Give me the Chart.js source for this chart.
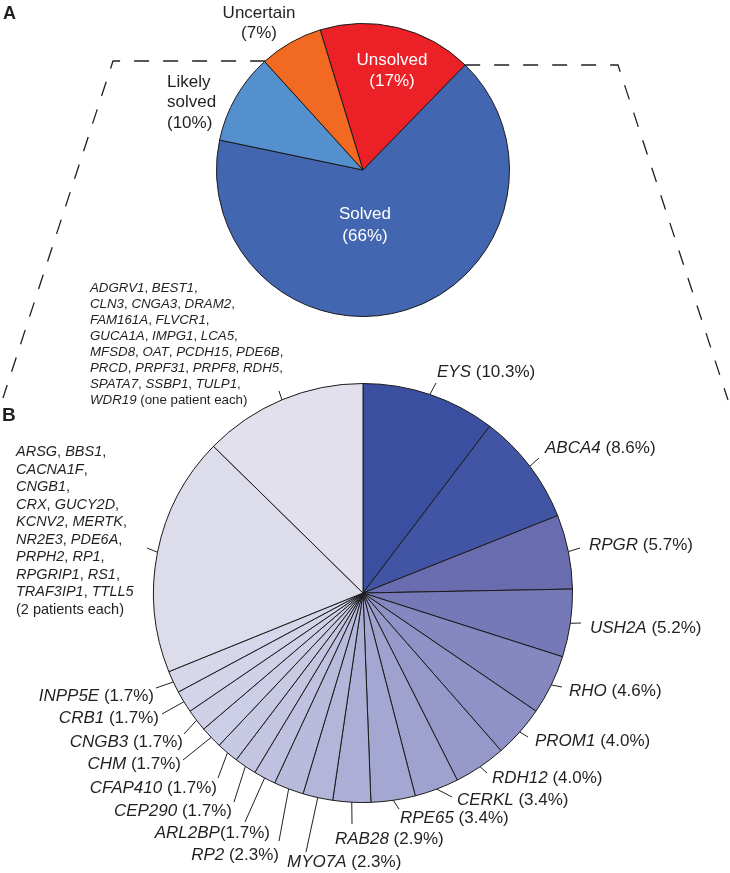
<!DOCTYPE html>
<html>
<head>
<meta charset="utf-8">
<script src="https://cdn.jsdelivr.net/npm/chart.js@4.4.0/dist/chart.umd.min.js"></script>
<style>
  body { margin: 0; background: #fff; }
  #wrap { position: relative; width: 730px; height: 873px; }
  canvas { position: absolute; left: 0; top: 0; }
</style>
</head>
<body>
<div id="wrap">
  <canvas id="chartB" width="730" height="873"></canvas>
  <canvas id="chartA" width="730" height="873"></canvas>
</div>
<script>
'use strict';

//panel A data
let statusNames = ['Unsolved', 'Solved', 'Likely solved', 'Uncertain'];
let statusPct = [17, 66, 10, 7];
let statusColors = ['#ec2027', '#4266b0', '#5590ce', '#f26a22'];

//panel B data
let geneNames = ['EYS', 'ABCA4', 'RPGR', 'USH2A', 'RHO', 'PROM1', 'RDH12', 'CERKL', 'RPE65', 'RAB28',
  'MYO7A', 'RP2', 'ARL2BP', 'CEP290', 'CFAP410', 'CHM', 'CNGB3', 'CRB1', 'INPP5E',
  '2 patients each', 'one patient each'];
let genePct = [10.3, 8.6, 5.7, 5.2, 4.6, 4.0, 4.0, 3.4, 3.4, 2.9,
  2.3, 2.3, 1.7, 1.7, 1.7, 1.7, 1.7, 1.7, 1.7,
  18.4, 12.6];
let twoPatientGenes = ['ARSG', 'BBS1', 'CACNA1F', 'CNGB1', 'CRX', 'GUCY2D', 'KCNV2', 'MERTK',
  'NR2E3', 'PDE6A', 'PRPH2', 'RP1', 'RPGRIP1', 'RS1', 'TRAF3IP1', 'TTLL5'];
let onePatientGenes = ['ADGRV1', 'BEST1', 'CLN3', 'CNGA3', 'DRAM2', 'FAM161A', 'FLVCR1', 'GUCA1A',
  'IMPG1', 'LCA5', 'MFSD8', 'OAT', 'PCDH15', 'PDE6B', 'PRCD', 'PRPF31', 'PRPF8', 'RDH5',
  'SPATA7', 'SSBP1', 'TULP1', 'WDR19'];
let geneColors = ['#3a4f9f', '#4255a4', '#696daf', '#7579b8', '#8487c0', '#8f92c6', '#9598c9',
  '#9fa1ce', '#a4a7d1', '#acaed5', '#b3b5d9', '#b9bbdc', '#c0c1e0', '#c4c5e1', '#c8c9e3',
  '#cccde6', '#d0d1e8', '#d3d4e9', '#d6d7ea', '#dcdcea', '#e1e0ec'];

//label placement for panel B (leader end, text anchor)
let labelSpots = [
  {lx: 436, ly: 383, tx: 437, ty: 372, align: 'left'},
  {lx: 539, ly: 458, tx: 545, ty: 448, align: 'left'},
  {lx: 580, ly: 548, tx: 589, ty: 545, align: 'left'},
  {lx: 581, ly: 623, tx: 590, ty: 628, align: 'left'},
  {lx: 562, ly: 687, tx: 569, ty: 691, align: 'left'},
  {lx: 528, ly: 737, tx: 535, ty: 741, align: 'left'},
  {lx: 487, ly: 773, tx: 492, ty: 778, align: 'left'},
  {lx: 452, ly: 797, tx: 457, ty: 800, align: 'left'},
  {lx: 399, ly: 809, tx: 400, ty: 818, align: 'left'},
  {lx: 352, ly: 824, tx: 335, ty: 839, align: 'left'},
  {lx: 306, ly: 852, tx: 287, ty: 862, align: 'left'},
  {lx: 279, ly: 841, tx: 279, ty: 855, align: 'right'},
  {lx: 245, ly: 822, tx: 270, ty: 833, align: 'right', gap: ''},
  {lx: 234, ly: 802, tx: 232, ty: 811, align: 'right'},
  {lx: 218, ly: 778, tx: 217, ty: 788, align: 'right'},
  {lx: 183, ly: 760, tx: 181, ty: 764, align: 'right'},
  {lx: 184, ly: 734, tx: 183, ty: 742, align: 'right'},
  {lx: 162, ly: 714, tx: 159, ty: 718, align: 'right'},
  {lx: 156, ly: 688, tx: 154, ty: 696, align: 'right'}
];
let twoBlock = {lx: 147, ly: 548, x: 16, y: 452, lineH: 17.5, size: 14.5, wrap: [2, 1, 1, 2, 2, 2, 2, 2, 2]};
let oneBlock = {lx: 279, ly: 391, x: 90, y: 288, lineH: 16, size: 13.3, wrap: [2, 3, 2, 3, 4, 4, 3, 1]};

const FONT = '"Liberation Sans", Arial, Helvetica, sans-serif';
const INK = '#231f20';

//draw text made of italic / upright pieces
function drawParts(ctx, parts, x, y, align, size){
  let widths = parts.map(p => {
    ctx.font = (p[1] ? 'italic ' : '') + size + 'px ' + FONT;
    return ctx.measureText(p[0]).width;
  });
  let total = widths.reduce((a, b) => a + b, 0);
  let cx = align === 'right' ? x - total : (align === 'center' ? x - total / 2 : x);
  ctx.textAlign = 'left';
  ctx.textBaseline = 'middle';
  for(let i = 0; i < parts.length; i++){
    ctx.font = (parts[i][1] ? 'italic ' : '') + size + 'px ' + FONT;
    ctx.fillText(parts[i][0], cx, y);
    cx += widths[i];
  }
}

function leader(ctx, arc, ex, ey){
  let mid = (arc.startAngle + arc.endAngle) / 2;
  let r = arc.outerRadius;
  ctx.beginPath();
  ctx.moveTo(arc.x + Math.cos(mid) * r, arc.y + Math.sin(mid) * r);
  ctx.lineTo(ex, ey);
  ctx.stroke();
}

function drawBlock(ctx, genes, block, tail, tailOwnLine){
  let k = 0;
  let y = block.y;
  for(let i = 0; i < block.wrap.length; i++){
    let parts = [];
    for(let j = 0; j < block.wrap[i]; j++){
      let last = k === genes.length - 1;
      parts.push([genes[k], true]);
      if(!last){
        parts.push([j === block.wrap[i] - 1 ? ',' : ', ', false]);
      }
      k++;
    }
    if(i === block.wrap.length - 1 && !tailOwnLine){
      parts.push([' ' + tail, false]);
    }
    drawParts(ctx, parts, block.x, y, 'left', block.size);
    y += block.lineH;
  }
  if(tailOwnLine){
    drawParts(ctx, [[tail, false]], block.x, y, 'left', block.size);
  }
}

//labels for panel B
let labelsB = {
  id: 'labelsB',
  afterDraw(chart){
    let ctx = chart.ctx;
    let arcs = chart.getDatasetMeta(0).data;
    ctx.save();
    ctx.strokeStyle = INK;
    ctx.fillStyle = INK;
    ctx.lineWidth = 1;
    for(let i = 0; i < labelSpots.length; i++){
      let s = labelSpots[i];
      leader(ctx, arcs[i], s.lx, s.ly);
      let gap = s.gap === undefined ? ' ' : s.gap;
      drawParts(ctx, [[geneNames[i], true], [gap + '(' + genePct[i].toFixed(1) + '%)', false]], s.tx, s.ty, s.align, 17);
    }
    leader(ctx, arcs[19], twoBlock.lx, twoBlock.ly);
    leader(ctx, arcs[20], oneBlock.lx, oneBlock.ly);
    drawBlock(ctx, twoPatientGenes, twoBlock, '(2 patients each)', true);
    drawBlock(ctx, onePatientGenes, oneBlock, '(one patient each)', false);
    ctx.font = 'bold 19px ' + FONT;
    ctx.textBaseline = 'middle';
    ctx.fillText('B', 2, 416);
    ctx.restore();
  }
};

//labels and zoom lines for panel A
let labelsA = {
  id: 'labelsA',
  beforeDatasetsDraw(chart){
    let ctx = chart.ctx;
    let arc = chart.getDatasetMeta(0).data[0];
    let r = arc.outerRadius;
    let yl = 61;
    let yr = 65;
    ctx.save();
    ctx.strokeStyle = INK;
    ctx.lineWidth = 1.3;
    ctx.setLineDash([15, 14]);
    ctx.beginPath();
    ctx.moveTo(arc.x - Math.sqrt(r * r - (yl - arc.y) * (yl - arc.y)), yl);
    ctx.lineTo(113, yl);
    ctx.lineTo(3, 398);
    ctx.stroke();
    ctx.beginPath();
    ctx.moveTo(arc.x + Math.sqrt(r * r - (yr - arc.y) * (yr - arc.y)), yr);
    ctx.lineTo(618, yr);
    ctx.lineTo(728, 400);
    ctx.stroke();
    ctx.restore();
  },
  afterDraw(chart){
    let ctx = chart.ctx;
    ctx.save();
    ctx.fillStyle = '#ffffff';
    drawParts(ctx, [[statusNames[0], false]], 392, 60, 'center', 17);
    drawParts(ctx, [['(' + statusPct[0] + '%)', false]], 392, 81, 'center', 17);
    drawParts(ctx, [[statusNames[1], false]], 365, 214, 'center', 17);
    drawParts(ctx, [['(' + statusPct[1] + '%)', false]], 365, 236, 'center', 17);
    ctx.fillStyle = INK;
    drawParts(ctx, [['Likely', false]], 167, 82, 'left', 17);
    drawParts(ctx, [['solved', false]], 167, 102, 'left', 17);
    drawParts(ctx, [['(' + statusPct[2] + '%)', false]], 167, 123, 'left', 17);
    drawParts(ctx, [[statusNames[3], false]], 259, 13, 'center', 17);
    drawParts(ctx, [['(' + statusPct[3] + '%)', false]], 259, 33, 'center', 17);
    ctx.font = 'bold 18px ' + FONT;
    ctx.textBaseline = 'middle';
    ctx.fillText('A', 3, 14);
    ctx.restore();
  }
};

let commonOptions = {
  responsive: false,
  animation: false,
  events: [],
  plugins: {legend: {display: false}, tooltip: {enabled: false}}
};

new Chart(document.getElementById('chartB'), {
  type: 'pie',
  data: {
    labels: geneNames,
    datasets: [{data: genePct, backgroundColor: geneColors, borderColor: '#1a1a1a', borderWidth: 1}]
  },
  options: Object.assign({}, commonOptions, {layout: {padding: {left: 153, right: 157, top: 383, bottom: 70}}}),
  plugins: [labelsB]
});

new Chart(document.getElementById('chartA'), {
  type: 'pie',
  data: {
    labels: statusNames,
    datasets: [{data: statusPct, backgroundColor: statusColors, borderColor: '#1a1a1a', borderWidth: 1}]
  },
  options: Object.assign({}, commonOptions, {rotation: -17, layout: {padding: {left: 216, right: 220, top: 23, bottom: 556}}}),
  plugins: [labelsA]
});
</script>
</body>
</html>
